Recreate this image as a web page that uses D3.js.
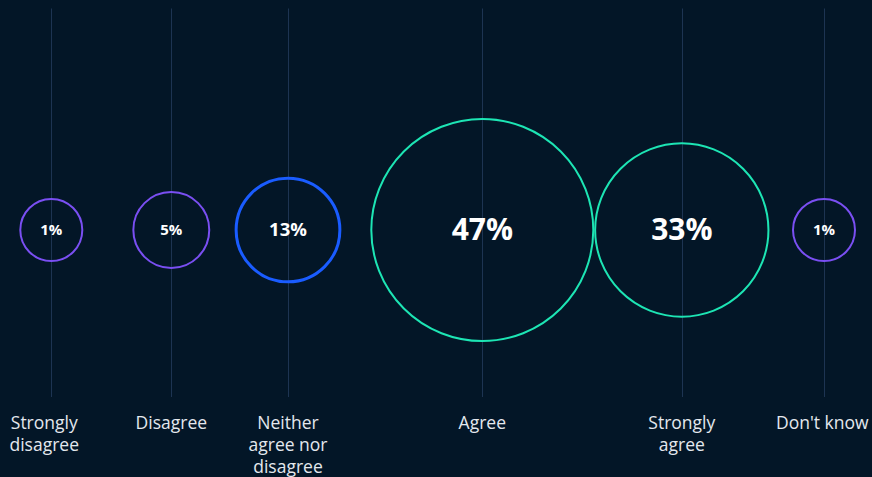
<!DOCTYPE html>
<html>
<head>
<meta charset="utf-8">
<script src="https://cdn.jsdelivr.net/npm/d3@7"></script>
<style>
  html, body { margin: 0; padding: 0; background: #031627; }
  svg { display: block; }
</style>
</head>
<body>
<div id="chart"></div>
<script>
// ---- data ----
const categories = ["Strongly disagree", "Disagree", "Neither agree nor disagree", "Agree", "Strongly agree", "Don't know"];
const labelLines = [["Strongly", "disagree"], ["Disagree"], ["Neither", "agree nor", "disagree"], ["Agree"], ["Strongly", "agree"], ["Don't know"]];
const values = [1, 5, 13, 47, 33, 1];
const groups = ["negative", "negative", "neutral", "positive", "positive", "unsure"];

// ---- layout ----
const W = 872, H = 477;
const data = categories.map((c, i) => ({ cat: c, lines: labelLines[i], value: values[i], group: groups[i] }));

const svg = d3.select("#chart").append("svg").attr("width", W).attr("height", H);
svg.append("rect").attr("width", W).attr("height", H).attr("fill", "#031627");

const x = d3.scaleOrdinal().domain(categories).range([51.3, 171.3, 288, 482.3, 681.8, 824]);
const r = d3.scaleLinear().domain([1, 47]).range([31, 111]);
const color = d3.scaleOrdinal().domain(["negative", "neutral", "positive", "unsure"])
  .range(["#7a4ff2", "#1a5cff", "#1de5b4", "#7a4ff2"]);
const strokeW = d3.scaleOrdinal().domain(["negative", "neutral", "positive", "unsure"]).range([2, 3, 2, 2]);
const fontSize = d3.scaleThreshold().domain([10, 20]).range([15, 18.5, 30]);

const cy = 230;
const gridTop = 8.5, gridBottom = 397;

// grid lines
svg.append("g").selectAll("line").data(data).join("line")
  .attr("x1", d => Math.round(x(d.cat)) + 0.5).attr("x2", d => Math.round(x(d.cat)) + 0.5)
  .attr("y1", gridTop).attr("y2", gridBottom)
  .attr("stroke", "#1d3452").attr("stroke-width", 1);

// circles
svg.append("g").selectAll("circle").data(data).join("circle")
  .attr("cx", d => x(d.cat)).attr("cy", cy).attr("r", d => r(d.value))
  .attr("fill", "none").attr("stroke", d => color(d.group)).attr("stroke-width", d => strokeW(d.group));

// value labels
svg.append("g").selectAll("text").data(data).join("text")
  .attr("x", d => x(d.cat)).attr("y", cy).attr("dy", "0.32em")
  .attr("text-anchor", "middle")
  .attr("font-family", "'Open Sans', sans-serif").attr("font-weight", 700)
  .attr("font-size", d => fontSize(d.value)).attr("fill", "#ffffff")
  .text(d => d.value + "%");

// category labels
const lab = svg.append("g").selectAll("text").data(data).join("text")
  .attr("text-anchor", "middle")
  .attr("font-family", "'Open Sans', sans-serif").attr("font-size", 17.5)
  .attr("fill", "#e4e8ee");
lab.each(function(d) {
  const t = d3.select(this);
  d.lines.forEach((ln, i) => {
    t.append("tspan").attr("x", x(d.cat)).attr("y", 429 + i * 22).text(ln);
  });
  // keep label blocks near the canvas edges aligned to a padding
  const bb = this.getBBox();
  let shift = 0;
  if (bb.x < 24) shift = 9.5 - bb.x;
  if (bb.x + bb.width > W - 3) shift = (W - 3) - (bb.x + bb.width);
  if (shift) t.selectAll("tspan").attr("x", x(d.cat) + shift);
});
</script>
</body>
</html>
